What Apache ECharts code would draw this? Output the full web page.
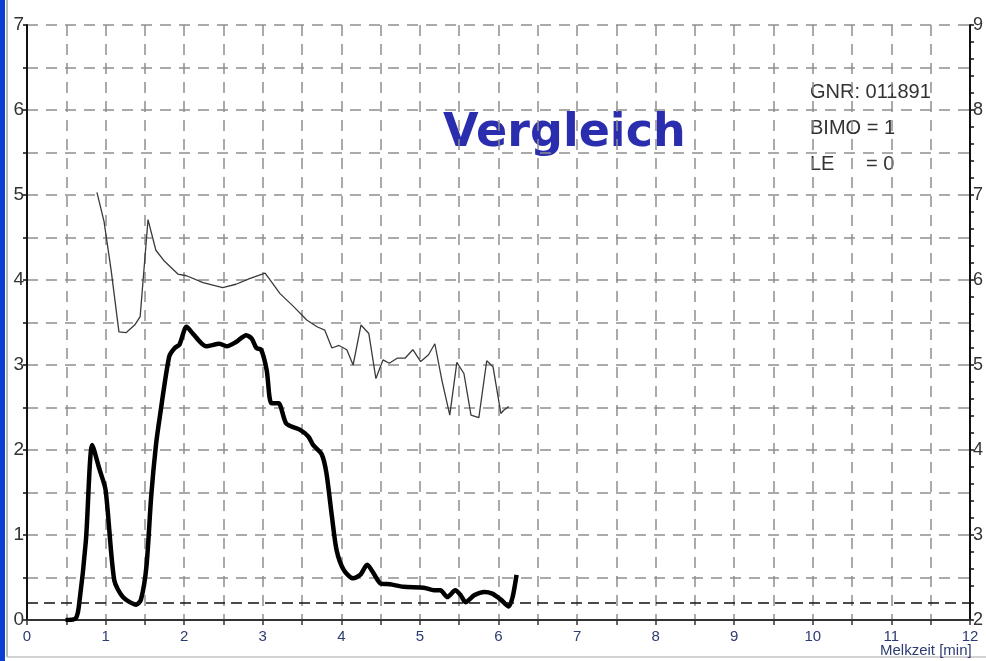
<!DOCTYPE html>
<html>
<head>
<meta charset="utf-8">
<script src="https://cdn.jsdelivr.net/npm/echarts@6/dist/echarts.min.js"></script>
<style>
  html, body { margin: 0; padding: 0; background: #fff; }
  #chart { width: 986px; height: 661px; }
</style>
</head>
<body>
<div id="chart"></div>
<script>
// Milchfluss (kg/min) – dicke Linie, linke Achse
var flowTime = [0.49, 0.62, 0.66, 0.75, 0.83, 0.92, 1.0, 1.11, 1.22, 1.39, 1.45, 1.52, 1.58, 1.64, 1.69, 1.81, 1.88, 1.94,
  2.03, 2.11, 2.28, 2.45, 2.54, 2.66, 2.79, 2.86, 2.92, 2.98, 3.05, 3.11, 3.2, 3.3, 3.47, 3.58, 3.64, 3.75, 3.81, 3.88,
  3.94, 4.03, 4.15, 4.24, 4.33, 4.41, 4.5, 4.62, 4.79, 5.05, 5.18, 5.26, 5.35, 5.45, 5.52, 5.58, 5.69, 5.82, 5.92,
  6.03, 6.13, 6.18, 6.23];
var flowValue = [0, 0.02, 0.16, 0.94, 2.06, 1.78, 1.53, 0.47, 0.27, 0.18, 0.24, 0.63, 1.45, 2.05, 2.39, 3.10, 3.20, 3.24,
  3.45, 3.37, 3.22, 3.25, 3.22, 3.27, 3.35, 3.31, 3.20, 3.18, 2.94, 2.55, 2.55, 2.31, 2.24, 2.16, 2.06, 1.95, 1.73, 1.22,
  0.82, 0.59, 0.49, 0.53, 0.65, 0.55, 0.43, 0.42, 0.39, 0.38, 0.35, 0.35, 0.27, 0.35, 0.29, 0.21, 0.29, 0.33, 0.31,
  0.24, 0.16, 0.27, 0.53];

// Leitwert – dünne Linie, rechte Achse
var condTime = [0.89, 0.98, 1.07, 1.17, 1.26, 1.37, 1.44, 1.54, 1.64, 1.75, 1.92, 2.03, 2.24, 2.49, 2.66, 2.84, 3.03,
  3.22, 3.39, 3.56, 3.69, 3.79, 3.88, 3.97, 4.07, 4.15, 4.25, 4.35, 4.44, 4.53, 4.61, 4.71, 4.81, 4.91, 5.01, 5.11,
  5.19, 5.28, 5.38, 5.47, 5.56, 5.65, 5.75, 5.85, 5.93, 6.03, 6.07, 6.13];
var condValue = [7.03, 6.69, 6.12, 5.39, 5.38, 5.47, 5.57, 6.71, 6.35, 6.22, 6.07, 6.05, 5.97, 5.91, 5.95, 6.02, 6.08,
  5.84, 5.69, 5.53, 5.45, 5.41, 5.20, 5.23, 5.18, 5.00, 5.47, 5.37, 4.84, 5.06, 5.02, 5.08, 5.08, 5.18, 5.04, 5.12,
  5.25, 4.82, 4.41, 5.03, 4.90, 4.41, 4.38, 5.05, 4.98, 4.43, 4.47, 4.51];

var thresholdLine = 0.2;
var infoLines = ['GNR: 011891', 'BIMO = 1', 'LE'];
var infoValues = ['', '', '= 0'];

var zip = function (xs, ys) {
  return xs.map(function (x, i) { return [x, ys[i]]; });
};
var intOnly = function (v) {
  return Math.abs(v - Math.round(v)) < 1e-6 ? String(Math.round(v)) : '';
};

var gridDash = { show: true, lineStyle: { color: '#8f8f8f', width: 1.5, type: [11, 8] } };
var infoFont = '20px "Liberation Sans"';

var myChart = echarts.init(document.getElementById('chart'));

var option = {
  animation: false,
  textStyle: { fontFamily: 'Liberation Sans' },
  grid: { left: 27, right: 16, top: 25, bottom: 41 },
  xAxis: {
    type: 'value',
    min: 0,
    max: 12,
    interval: 0.5,
    axisLine: { show: true, onZero: false, lineStyle: { color: '#333', width: 2 } },
    axisTick: { show: true, length: 5, lineStyle: { color: '#333', width: 1.5 } },
    axisLabel: { formatter: intOnly, fontSize: 15, color: '#2c3c72', margin: 9 },
    splitLine: gridDash
  },
  yAxis: [
    {
      type: 'value',
      min: 0,
      max: 7,
      interval: 0.5,
      axisLine: { show: true, lineStyle: { color: '#111', width: 2 } },
      axisTick: { show: true, length: 4, lineStyle: { color: '#111', width: 1.5 } },
      axisLabel: { formatter: intOnly, fontSize: 19, color: '#333', margin: 3 },
      splitLine: gridDash
    },
    {
      type: 'value',
      position: 'right',
      min: 2,
      max: 9,
      interval: 0.2,
      axisLine: { show: true, lineStyle: { color: '#111', width: 2 } },
      axisTick: { show: true, length: 4, lineStyle: { color: '#111', width: 1.5 } },
      axisLabel: { formatter: intOnly, fontSize: 18, color: '#333', margin: 3 },
      splitLine: { show: false }
    }
  ],
  series: [
    {
      name: 'Leitwert',
      type: 'line',
      yAxisIndex: 1,
      data: zip(condTime, condValue),
      symbol: 'none',
      lineStyle: { color: '#3a3a3a', width: 1.3 }
    },
    {
      name: 'Milchfluss',
      type: 'line',
      yAxisIndex: 0,
      data: zip(flowTime, flowValue),
      symbol: 'none',
      smooth: 0.25,
      lineStyle: { color: '#000', width: 4.5 },
      markLine: {
        silent: true,
        symbol: 'none',
        label: { show: false },
        lineStyle: { color: '#111', width: 1.5, type: [11, 6] },
        data: [{ yAxis: thresholdLine }]
      }
    }
  ],
  graphic: [
    { type: 'rect', shape: { x: 0, y: 0, width: 5, height: 661 }, style: { fill: '#0b3fd1' } },
    { type: 'line', shape: { x1: 7, y1: 0, x2: 7, y2: 657 }, style: { stroke: '#a0a0a0', lineWidth: 1.5 } },
    { type: 'line', shape: { x1: 7, y1: 657, x2: 986, y2: 657 }, style: { stroke: '#c4c4c4', lineWidth: 1.5 } },
    {
      type: 'text', x: 443, y: 134,
      style: { text: 'Vergleich', fill: '#2b2daf', font: 'bold 46px "DejaVu Sans"', textVerticalAlign: 'middle' }
    },
    { type: 'text', x: 810, y: 92, style: { text: infoLines[0], fill: '#333', font: infoFont, textVerticalAlign: 'middle' } },
    { type: 'text', x: 810, y: 128, style: { text: infoLines[1], fill: '#333', font: infoFont, textVerticalAlign: 'middle' } },
    { type: 'text', x: 810, y: 164, style: { text: infoLines[2], fill: '#333', font: infoFont, textVerticalAlign: 'middle' } },
    { type: 'text', x: 866, y: 164, style: { text: infoValues[2], fill: '#333', font: infoFont, textVerticalAlign: 'middle' } },
    { type: 'text', x: 880, y: 651, style: { text: 'Melkzeit [min]', fill: '#2c3c72', font: '15px "Liberation Sans"', textVerticalAlign: 'middle' } }
  ]
};

myChart.setOption(option);
</script>
</body>
</html>
